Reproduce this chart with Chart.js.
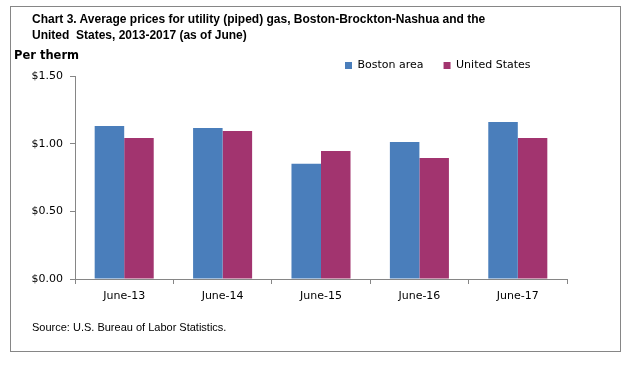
<!DOCTYPE html>
<html>
<head>
<meta charset="utf-8">
<script src="https://cdn.jsdelivr.net/npm/chart.js@4.4.1/dist/chart.umd.min.js"></script>
<style>
  html, body { margin: 0; padding: 0; background: #ffffff; }
  #wrap { position: relative; width: 635px; height: 370px; overflow: hidden; }
  #frame { position: absolute; left: 10px; top: 6px; width: 611px; height: 346px; border: 1px solid #868686; box-sizing: border-box; }
  canvas { position: absolute; left: 0; top: 0; }
  .txt { position: absolute; white-space: pre; color: #000; }
  #title { left: 32px; top: 11px; font: bold 12px "Liberation Sans", Arial, sans-serif; line-height: 16px; }
  #unit { left: 14px; top: 48px; font: bold 11.5px "DejaVu Sans", sans-serif; }
  #source { left: 32px; top: 321px; font: 11px "Liberation Sans", Arial, sans-serif; }
</style>
</head>
<body>
<div id="wrap">
  <div id="frame"></div>
  <canvas id="c" width="635" height="370"></canvas>
  <div class="txt" id="title">Chart 3. Average prices for utility (piped) gas, Boston-Brockton-Nashua and the
United  States, 2013-2017 (as of June)</div>
  <div class="txt" id="unit">Per therm</div>
  <div class="txt" id="source">Source: U.S. Bureau of Labor Statistics.</div>
</div>
<script>
const categories = ["June-13", "June-14", "June-15", "June-16", "June-17"];
const bostonArea = [1.130, 1.115, 0.851, 1.012, 1.160];
const unitedStates = [1.042, 1.093, 0.946, 0.895, 1.042];
const seriesNames = ["Boston area", "United States"];
const yTicks = [0, 0.5, 1.0, 1.5];

const axisGray = "#868686";
const tickFont = { family: "'DejaVu Sans', sans-serif", size: 11 };

const legendMover = {
  id: "legendMover",
  afterLayout(chart) {
    const lg = chart.legend;
    if (!lg) return;
    const h = lg.height;
    lg.left = 325; lg.right = 635;
    lg.top = 40; lg.bottom = 40 + h;
  }
};

new Chart(document.getElementById("c"), {
  type: "bar",
  data: {
    labels: categories,
    datasets: [
      { label: seriesNames[0], data: bostonArea, backgroundColor: "#4A7EBB", borderWidth: 0 },
      { label: seriesNames[1], data: unitedStates, backgroundColor: "#A2346F", borderWidth: 0 }
    ]
  },
  options: {
    responsive: false,
    animation: false,
    devicePixelRatio: 1,
    layout: { padding: { top: 35, right: 68, bottom: 0, left: 0 } },
    datasets: { bar: { categoryPercentage: 0.6, barPercentage: 1.0 } },
    plugins: {
      legend: {
        position: "top",
        align: "start",
        labels: {
          boxWidth: 7, boxHeight: 7, padding: 20,
          color: "#000", font: tickFont
        }
      },
      title: { display: false },
      tooltip: { enabled: false }
    },
    scales: {
      x: {
        afterFit(s) { s.height = 91; },
        grid: { display: true, drawOnChartArea: false, drawTicks: true, tickLength: 5, color: axisGray, offset: true },
        border: { display: true, color: axisGray, width: 1 },
        ticks: { color: "#000", font: tickFont, padding: 6, maxRotation: 0 }
      },
      y: {
        min: 0, max: 1.5,
        afterFit(s) { s.width = 75; },
        afterBuildTicks(s) { s.ticks = yTicks.map(v => ({ value: v })); },
        grid: { display: true, drawOnChartArea: false, drawTicks: true, tickLength: 5, color: axisGray },
        border: { display: true, color: axisGray, width: 1 },
        ticks: { color: "#000", font: tickFont, padding: 7, callback: v => "$" + Number(v).toFixed(2) }
      }
    }
  },
  plugins: [legendMover]
});
</script>
</body>
</html>
